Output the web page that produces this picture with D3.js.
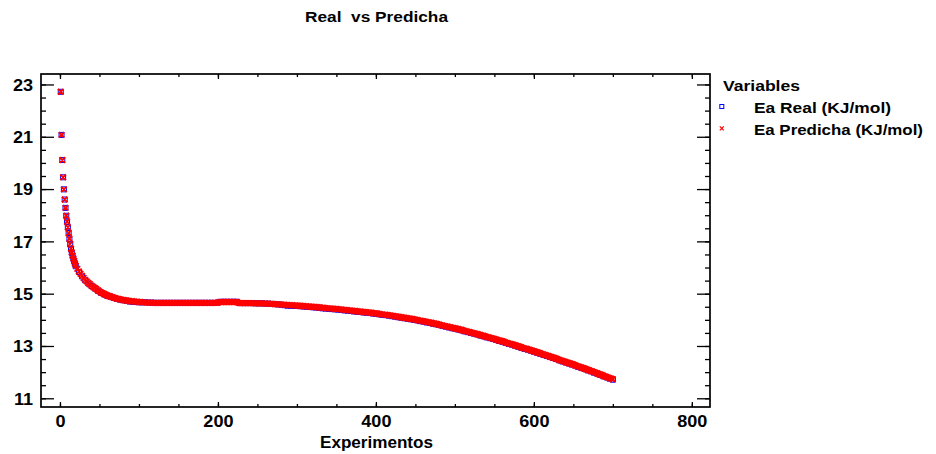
<!DOCTYPE html>
<html>
<head>
<meta charset="utf-8">
<script src="https://cdn.jsdelivr.net/npm/d3@7"></script>
<style>
  html, body { margin: 0; padding: 0; background: #fff; }
  svg text { font-family: "Liberation Sans", Arial, Helvetica, sans-serif; font-weight: bold; fill: #000; }
</style>
</head>
<body>
<svg id="chart" width="936" height="454"></svg>
<script>
// ---- chart data ----
const chartTitle = "Real  vs Predicha";
const xTitle = "Experimentos";
const legendTitle = "Variables";
const seriesNames = ["Ea Real (KJ/mol)", "Ea Predicha (KJ/mol)"];

const xTicks = [0, 200, 400, 600, 800];
const xMinorTicks = d3.range(0, 801, 50);
const yTicks = [11, 13, 15, 17, 19, 21, 23];
const yMinorTicks = d3.range(11, 23.01, 0.5);

// experiment numbers for each series
const predichaExp = d3.range(1, 21).concat(d3.range(22, 701, 2));
const realExp = d3.range(1, 21).concat(d3.range(24, 701, 4));

const predichaValues = [
  22.72,21.07,20.11,19.45,18.99,18.60,18.28,17.98,17.75,17.54,
  17.32,17.10,16.90,16.72,16.58,16.46,16.35,16.25,16.16,16.07,
  15.95,15.85,15.76,15.68,15.60,15.53,15.47,15.41,15.36,15.31,
  15.26,15.22,15.18,15.13,15.09,15.05,15.02,14.99,14.96,14.93,
  14.91,14.89,14.87,14.85,14.83,14.81,14.80,14.78,14.77,14.76,
  14.75,14.74,14.73,14.72,14.71,14.71,14.70,14.69,14.69,14.68,
  14.68,14.67,14.67,14.67,14.66,14.66,14.66,14.66,14.65,14.65,
  14.65,14.65,14.65,14.65,14.65,14.65,14.65,14.65,14.65,14.65,
  14.65,14.65,14.65,14.65,14.65,14.65,14.65,14.65,14.65,14.65,
  14.65,14.65,14.65,14.65,14.65,14.65,14.65,14.65,14.65,14.65,
  14.65,14.65,14.65,14.65,14.65,14.65,14.65,14.65,14.65,14.66,
  14.68,14.68,14.68,14.68,14.68,14.68,14.68,14.68,14.68,14.68,
  14.68,14.68,14.65,14.64,14.64,14.64,14.64,14.64,14.64,14.64,
  14.64,14.64,14.63,14.63,14.63,14.63,14.63,14.63,14.62,14.62,
  14.62,14.62,14.61,14.61,14.61,14.60,14.60,14.59,14.59,14.58,
  14.58,14.58,14.57,14.57,14.56,14.56,14.56,14.55,14.55,14.55,
  14.54,14.54,14.53,14.53,14.52,14.52,14.51,14.51,14.50,14.50,
  14.49,14.49,14.48,14.48,14.47,14.46,14.46,14.45,14.45,14.44,
  14.44,14.43,14.43,14.42,14.42,14.41,14.40,14.40,14.39,14.38,
  14.38,14.37,14.36,14.36,14.35,14.34,14.34,14.33,14.32,14.32,
  14.31,14.30,14.30,14.29,14.28,14.28,14.27,14.26,14.25,14.25,
  14.24,14.23,14.22,14.21,14.20,14.20,14.19,14.18,14.17,14.16,
  14.15,14.14,14.13,14.12,14.11,14.10,14.09,14.08,14.07,14.06,
  14.05,14.04,14.03,14.02,14.01,14.00,13.98,13.97,13.96,13.95,
  13.94,13.92,13.91,13.90,13.89,13.87,13.86,13.85,13.83,13.82,
  13.80,13.79,13.77,13.76,13.75,13.73,13.72,13.70,13.69,13.68,
  13.66,13.65,13.63,13.62,13.60,13.58,13.57,13.55,13.54,13.52,
  13.50,13.49,13.47,13.46,13.44,13.42,13.40,13.39,13.37,13.35,
  13.34,13.32,13.30,13.29,13.27,13.25,13.23,13.21,13.20,13.18,
  13.16,13.14,13.12,13.10,13.08,13.07,13.05,13.03,13.01,12.99,
  12.97,12.95,12.93,12.91,12.90,12.88,12.86,12.84,12.82,12.80,
  12.78,12.76,12.74,12.72,12.70,12.68,12.66,12.64,12.62,12.60,
  12.58,12.56,12.54,12.52,12.50,12.47,12.45,12.43,12.41,12.39,
  12.37,12.35,12.33,12.31,12.29,12.27,12.24,12.22,12.20,12.18,
  12.16,12.14,12.11,12.09,12.07,12.05,12.03,12.00,11.98,11.96,
  11.93,11.91,11.89,11.86,11.84,11.82,11.79,11.77,11.75,11.73
];

const realValues = [
  22.72,21.07,20.11,19.45,18.99,18.60,18.28,17.98,17.75,17.54,
  17.32,17.08,16.88,16.70,16.56,16.44,16.33,16.23,16.14,16.05,
  15.83,15.66,15.51,15.39,15.29,
  15.20,15.11,15.03,14.97,14.91,
  14.88,14.84,14.80,14.77,14.75,
  14.73,14.70,14.69,14.68,14.67,
  14.67,14.67,14.66,14.66,14.65,
  14.65,14.65,14.65,14.65,14.65,14.65,14.65,14.65,14.65,14.65,
  14.65,14.65,14.65,14.65,14.65,14.65,14.65,14.65,14.65,
  14.66,
  14.69,14.69,14.69,14.69,14.69,14.69,
  14.64,14.64,14.64,14.64,
  14.64,14.63,14.63,14.63,14.62,
  14.62,14.61,14.60,14.59,14.58,
  14.56,14.54,14.54,14.53,14.53,
  14.52,14.51,14.50,14.49,14.48,
  14.47,14.46,14.44,14.43,14.42,
  14.41,14.40,14.39,14.38,14.36,
  14.35,14.34,14.32,14.31,14.30,
  14.28,14.27,14.26,14.24,14.23,
  14.21,14.19,14.18,14.16,14.14,
  14.12,14.10,14.08,14.06,14.04,
  14.02,14.00,13.98,13.95,13.93,
  13.90,13.88,13.85,13.83,13.80,
  13.77,13.74,13.71,13.68,13.66,
  13.63,13.60,13.56,13.53,13.50,
  13.47,13.44,13.40,13.37,13.33,
  13.30,13.27,13.23,13.19,13.16,
  13.12,13.08,13.05,13.01,12.97,
  12.93,12.89,12.86,12.82,12.78,
  12.74,12.70,12.66,12.62,12.58,
  12.54,12.50,12.45,12.41,12.37,
  12.33,12.29,12.25,12.20,12.16,
  12.12,12.07,12.03,11.98,11.94,
  11.89,11.84,11.80,11.75,11.71
];

// ---- layout ----
const svg = d3.select("#chart");
const frame = { left: 41, top: 74, right: 710, bottom: 407 };
const labelStretch = 1.13;

const x = d3.scaleLinear().domain([-24, 823]).range([frame.left, frame.right]);
const y = d3.scaleLinear().domain([10.667, 23.4]).range([frame.bottom, frame.top]);

function styleTicks(g) {
  g.select(".domain").remove();
  g.selectAll(".tick line").attr("stroke", "#000").attr("stroke-width", 1.3);
}

// minor ticks on all four sides
svg.append("g").attr("transform", `translate(0,${frame.bottom})`)
  .call(d3.axisBottom(x).tickValues(xMinorTicks).tickSize(-3).tickFormat(""))
  .call(styleTicks);
svg.append("g").attr("transform", `translate(0,${frame.top})`)
  .call(d3.axisTop(x).tickValues(xMinorTicks).tickSize(-3).tickFormat(""))
  .call(styleTicks);
svg.append("g").attr("transform", `translate(${frame.left},0)`)
  .call(d3.axisLeft(y).tickValues(yMinorTicks).tickSize(-5).tickFormat(""))
  .call(styleTicks);
svg.append("g").attr("transform", `translate(${frame.right},0)`)
  .call(d3.axisRight(y).tickValues(yMinorTicks).tickSize(-5).tickFormat(""))
  .call(styleTicks);

// major ticks
const xAxis = svg.append("g").attr("transform", `translate(0,${frame.bottom})`)
  .call(d3.axisBottom(x).tickValues(xTicks).tickSize(-5).tickFormat(d3.format("d")))
  .call(styleTicks);
xAxis.selectAll("text")
  .attr("y", 20).attr("dy", null)
  .attr("transform", `scale(${labelStretch},1)`)
  .style("font-size", "16px");

svg.append("g").attr("transform", `translate(0,${frame.top})`)
  .call(d3.axisTop(x).tickValues(xTicks).tickSize(-5).tickFormat(""))
  .call(styleTicks);

const yAxis = svg.append("g").attr("transform", `translate(${frame.left},0)`)
  .call(d3.axisLeft(y).tickValues(yTicks).tickSize(-13).tickFormat(d3.format("d")))
  .call(styleTicks);
yAxis.selectAll("text")
  .attr("x", -8 / labelStretch).attr("dy", "0.36em")
  .attr("text-anchor", "end")
  .attr("transform", `scale(${labelStretch},1)`)
  .style("font-size", "16px");

svg.append("g").attr("transform", `translate(${frame.right},0)`)
  .call(d3.axisRight(y).tickValues(yTicks).tickSize(-13).tickFormat(""))
  .call(styleTicks);

// plot frame
svg.append("rect")
  .attr("x", frame.left).attr("y", frame.top)
  .attr("width", frame.right - frame.left).attr("height", frame.bottom - frame.top)
  .attr("fill", "none").attr("stroke", "#000").attr("stroke-width", 1.7);

// ---- points ----
const realPts = d3.zip(realExp, realValues);
const predPts = d3.zip(predichaExp, predichaValues);

const squareHalf = 2.5;
svg.append("path")
  .attr("fill", "none").attr("stroke", "#0000ff").attr("stroke-width", 1)
  .attr("d", realPts.map(([e, v]) => {
    const cx = x(e), cy = y(v);
    return `M${cx - squareHalf},${cy - squareHalf}h${2 * squareHalf}v${2 * squareHalf}h${-2 * squareHalf}Z`;
  }).join(""));

const crossHalf = 2.8;
svg.append("path")
  .attr("fill", "none").attr("stroke", "#ff0000").attr("stroke-width", 1.8)
  .attr("d", predPts.map(([e, v]) => {
    const cx = x(e), cy = y(v);
    return `M${cx - crossHalf},${cy - crossHalf}L${cx + crossHalf},${cy + crossHalf}` +
           `M${cx - crossHalf},${cy + crossHalf}L${cx + crossHalf},${cy - crossHalf}`;
  }).join(""));

// ---- titles ----
svg.append("text")
  .attr("x", 376.5).attr("y", 21.5)
  .attr("text-anchor", "middle")
  .attr("textLength", 143).attr("lengthAdjust", "spacingAndGlyphs")
  .style("font-size", "14px").style("white-space", "pre")
  .text(chartTitle);

svg.append("text")
  .attr("x", 376.5).attr("y", 448)
  .attr("text-anchor", "middle")
  .attr("textLength", 113).attr("lengthAdjust", "spacingAndGlyphs")
  .style("font-size", "16px")
  .text(xTitle);

// ---- legend ----
const legend = svg.append("g");
legend.append("text")
  .attr("x", 723).attr("y", 91)
  .attr("textLength", 77).attr("lengthAdjust", "spacingAndGlyphs")
  .style("font-size", "15px")
  .text(legendTitle);

legend.append("rect")
  .attr("x", 719.8).attr("y", 104.5).attr("width", 4).attr("height", 4)
  .attr("fill", "none").attr("stroke", "#0000ff").attr("stroke-width", 1);
legend.append("text")
  .attr("x", 754).attr("y", 113)
  .attr("textLength", 137).attr("lengthAdjust", "spacingAndGlyphs")
  .style("font-size", "15px")
  .text(seriesNames[0]);

const lx = 721.8, ly = 128.3, lh = 2;
legend.append("path")
  .attr("d", `M${lx - lh},${ly - lh}L${lx + lh},${ly + lh}M${lx - lh},${ly + lh}L${lx + lh},${ly - lh}`)
  .attr("stroke", "#ff0000").attr("stroke-width", 1.2).attr("fill", "none");
legend.append("text")
  .attr("x", 754).attr("y", 135)
  .attr("textLength", 169).attr("lengthAdjust", "spacingAndGlyphs")
  .style("font-size", "15px")
  .text(seriesNames[1]);
</script>
</body>
</html>
